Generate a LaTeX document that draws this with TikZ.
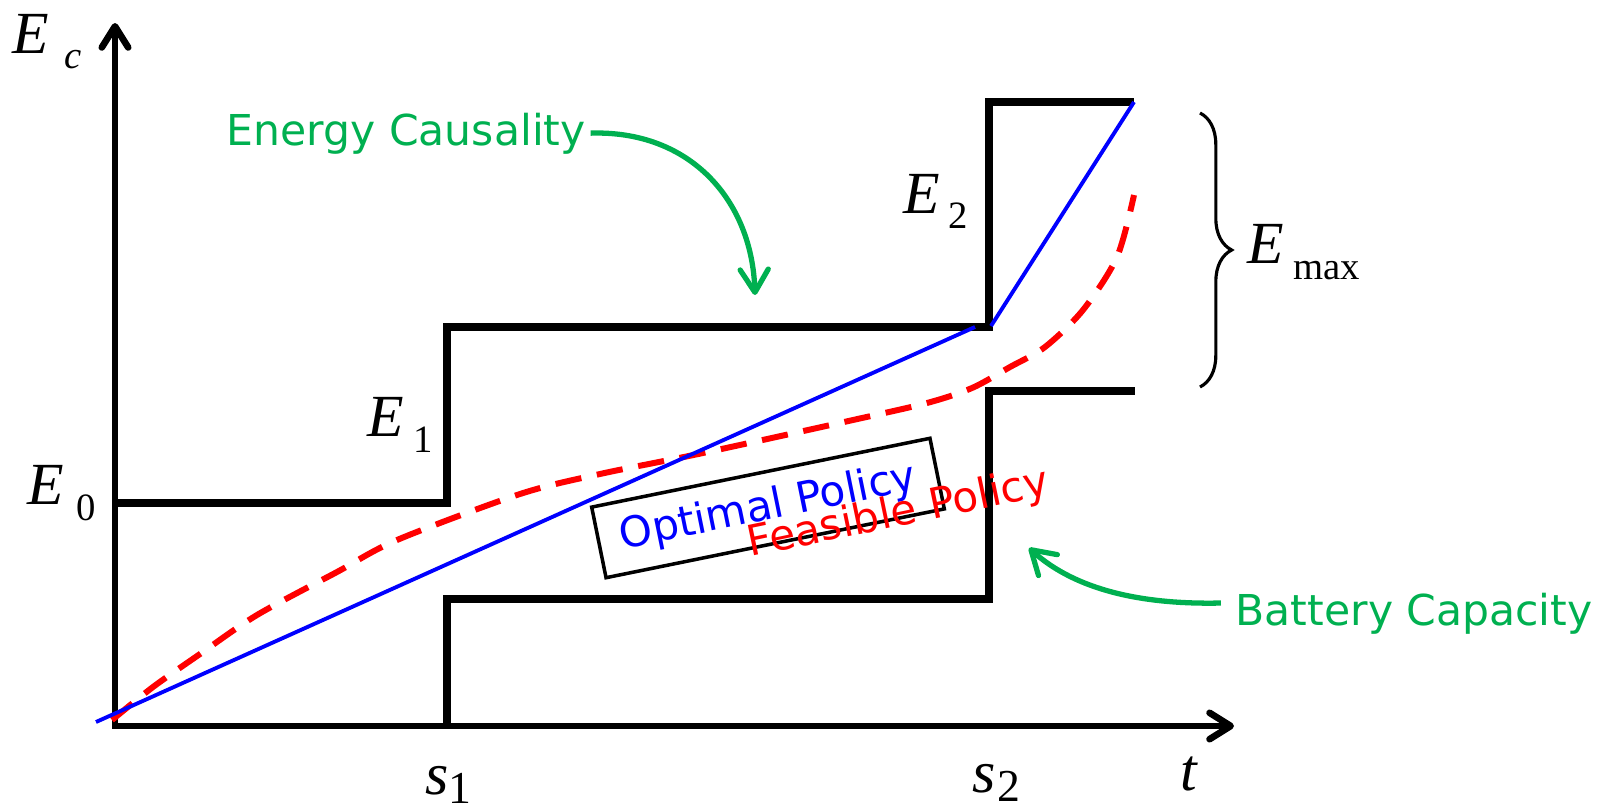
\documentclass[tikz,border=0pt]{standalone}
\usepackage{fontspec}
\setmainfont{DejaVu Sans}
\newfontfamily\tnr{Liberation Serif}
\usepackage{xcolor}
\usetikzlibrary{arrows.meta,decorations.pathreplacing}
\definecolor{notegreen}{RGB}{0,176,80}
\newcommand{\plotlbl}[5]{{\tnr\itshape\fontsize{17}{17}\selectfont #1}\hspace{#4}%
  \raisebox{-#5}{\tnr\fontsize{#3}{#3}\selectfont #2}}
\tikzset{
  axisline/.style={line width=1.9pt,
    -{Straight Barb[length=6pt, width=7.5pt, round]}},
  stairline/.style={line width=2.1pt},
  optline/.style={draw=blue, line width=1.1pt},
  feasline/.style={draw=red, line width=1.7pt,
    dash pattern=on 7.5pt off 4.5pt},
  capbrace/.style={decorate, decoration={brace, amplitude=9pt},
    line width=0.9pt},
  plotlabel/.style={anchor=base west, inner sep=0pt},
  notetext/.style={text=notegreen, font=\fontsize{12.1}{14}\selectfont,
    inner sep=0pt},
  notearrow/.style={draw=notegreen, line width=1.5pt,
    -{Straight Barb[length=6.5pt, width=8pt, round]}},
  policybox/.style={draw=black, line width=1pt, rotate=11.5,
    minimum width=3.45cm, minimum height=0.72cm, inner sep=0pt,
    text=blue, font=\fontsize{12}{14}\selectfont},
  policytext/.style={anchor=base west, rotate=11.7, inner sep=0pt,
    text=red, font=\fontsize{12}{14}\selectfont}
}
\begin{document}
\begin{tikzpicture}[x=0.01cm, y=-0.01cm]
  \useasboundingbox (0,0) rectangle (1606,809);

  \draw[axisline] (115,727) -- (115,23);
  \draw[axisline] (112,726) -- (1234,726);

  \draw[stairline] (115,503) -| (447,327) -| (989,102) -- (1134,102);
  \draw[stairline] (447,726) |- (989,599) |- (1135,391);

  \draw[feasline] plot[smooth] coordinates {(112,720) (153,687)
    (200,654) (257,615) (337,572) (397,540) (520,494) (600,474)
    (703,453) (853,420) (927,403) (972,388) (1010,367) (1045,347)
    (1083,310) (1117,257) (1134,195)};
  \draw[optline] (96,722) -- (975,327);
  \draw[optline] (991,326) -- (1134,102);

  \draw[capbrace] (1200,113) -- (1200,387);

  \node[plotlabel] (ec) at (12,53) {\plotlbl{E}{\itshape c}{11}{4.3pt}{4.5pt}};
  \node[plotlabel] (e0) at (27,504) {\plotlbl{E}{0}{11}{3.5pt}{4.6pt}};
  \node[plotlabel] (e1) at (367,436) {\plotlbl{E}{1}{11}{2.6pt}{4.6pt}};
  \node[plotlabel] (e2) at (903,213) {\plotlbl{E}{2}{11}{2.4pt}{4.3pt}};
  \node[plotlabel] (emax) at (1247,263) {\plotlbl{E}{max}{11}{2.6pt}{4.8pt}};
  \node[plotlabel] (s1) at (425,794) {\plotlbl{s}{1}{13}{0pt}{2.6pt}};
  \node[plotlabel] (s2) at (972,792) {\plotlbl{s}{2}{13}{0.5pt}{2.8pt}};
  \node[plotlabel] (tlbl) at (1180,790) {\tnr\itshape\fontsize{17}{17}\selectfont t};

  \node[policybox] (optimal) at (768,508) {Optimal Policy};
  \node[policytext] (feasible) at (750,557) {Feasible Policy};

  \node[notetext, anchor=base west] (causal) at (226,145) {Energy Causality};
  \node[notetext, anchor=base west] (battery) at (1235,625) {Battery Capacity};
  \coordinate (causaltip) at (755,295);
  \coordinate (batterytip) at (1029,548);
  \draw[notearrow, shorten <=1.2pt] (causal.east)
    .. controls (690,130) and (752,200) .. (causaltip);
  \draw[notearrow, shorten <=4pt] ([yshift=3pt]battery.west)
    .. controls (1130,605) and (1070,585) .. (batterytip);
\end{tikzpicture}
\end{document}
